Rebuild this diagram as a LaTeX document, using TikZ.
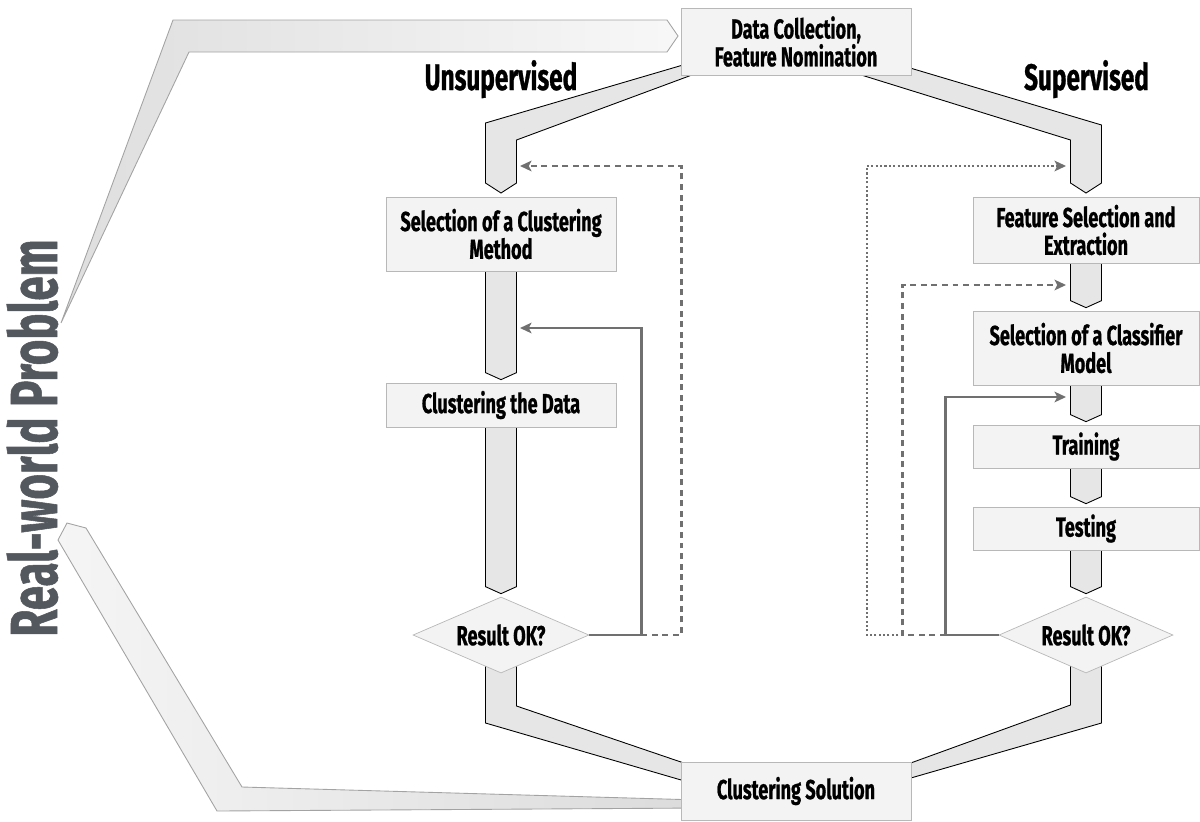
\documentclass[tikz,border=0pt]{standalone}
\usepackage{fontspec}
\setmainfont{Fira Sans}[FakeStretch=0.66, BoldFeatures={FakeBold=0.8}]
\usepackage{tikz}
\usetikzlibrary{positioning}
\usetikzlibrary{calc,backgrounds,arrows.meta}
\usetikzlibrary{shapes.geometric}

\definecolor{BoxFill}{HTML}{F3F3F3}
\definecolor{BoxLine}{HTML}{B8B8B8}
\definecolor{BandFill}{HTML}{E6E6E6}
\definecolor{LoopGray}{HTML}{707070}
\definecolor{RealGray}{HTML}{53585F}
\definecolor{RealLine}{HTML}{A3A3A3}

\tikzset{
	procbox/.style={draw=BoxLine, fill=BoxFill, minimum width=4.60cm, align=center, inner sep=0pt,
		font=\fontsize{15.6}{15.8}\selectfont\bfseries, text=black},
	okcheck/.style={diamond, aspect=2.3, draw=BoxLine, fill=BoxFill, minimum width=3.52cm, minimum height=1.52cm,
		inner sep=0pt, font=\fontsize{15.6}{15.8}\selectfont\bfseries, text=black},
	heading/.style={font=\fontsize{21}{23}\selectfont\bfseries, anchor=base},
	flowband/.style={draw=black, fill=BandFill, line width=0.5pt},
	realband/.style={draw=RealLine, line width=0.5pt},
	backline/.style={draw=LoopGray, line width=1.5pt, -{Stealth[length=6.5pt,width=6pt,inset=1.5pt]}},
	backdashed/.style={backline, dash pattern=on 3.4pt off 2.6pt},
	backdotted/.style={backline, line width=1.3pt, dash pattern=on 1.2pt off 1.3pt},
}

\begin{document}
\begin{tikzpicture}
	\useasboundingbox (0cm,0cm) rectangle (24.00cm,-16.42cm);
	
	% ---------------------
	% Start & end of the cycle
	\node[procbox, minimum height=1.34cm] (DataCollection) at (15.92cm,-0.83cm) {Data Collection,\\Feature Nomination};
	\node[procbox, minimum height=1.16cm] (ClusteringSolution) at (15.92cm,-15.82cm) {Clustering Solution};
	
	\node[anchor=base, rotate=90, text=RealGray, font=\fontsize{37.8}{40}\selectfont\bfseries] (RealWorld) at (1.14cm,-8.76cm) {Real-world Problem};
	
	% ---------------------
	% Unsupervised branch
	\node[heading] (Unsupervised) at (10.02cm,-1.80cm) {Unsupervised};
	\node[procbox, minimum height=1.48cm] (ClusterMethod) at (10.02cm,-4.68cm) {Selection of a Clustering\\Method};
	\node[procbox, minimum height=0.88cm] (ClusterData) at (10.02cm,-8.10cm) {Clustering the Data};
	\node[okcheck] (ClusterCheck) at (10.02cm,-12.70cm) {Result OK?};
	
	% ---------------------
	% Supervised branch
	\node[heading] (Supervised) at (21.73cm,-1.80cm) {Supervised};
	\node[procbox, minimum width=4.52cm, minimum height=1.32cm] (FeatureSelection) at (21.72cm,-4.60cm) {Feature Selection and\\Extraction};
	\node[procbox, minimum width=4.52cm, minimum height=1.48cm] (ClassifierModel) at (21.72cm,-6.96cm) {Selection of a Classifier\\Model};
	\node[procbox, minimum width=4.52cm, minimum height=0.86cm] (Training) at (21.72cm,-8.93cm) {Training};
	\node[procbox, minimum width=4.52cm, minimum height=0.86cm] (Testing) at (21.72cm,-10.57cm) {Testing};
	\node[okcheck, minimum width=3.48cm] (ClassifierCheck) at (21.72cm,-12.70cm) {Result OK?};
	
	% ------------------------------------------------
	% Broad arrows (behind the boxes)
	\begin{scope}[on background layer]
		\draw[realband, left color=black!13, right color=black!3]
			(1.22cm,-6.46cm) -- (3.46cm,-0.40cm) -- (13.34cm,-0.40cm) -- (13.56cm,-0.72cm)
			-- (13.34cm,-1.04cm) -- (3.78cm,-1.04cm) -- cycle;
		\draw[realband, left color=black!4, right color=black!14]
			(1.34cm,-10.46cm) -- (1.72cm,-10.56cm) -- (4.84cm,-15.74cm) -- (14.00cm,-16.00cm)
			-- (14.00cm,-16.16cm) -- (4.34cm,-16.22cm) -- (1.16cm,-10.80cm) -- cycle;
		
		\draw[flowband] (14.00cm,-1.20cm) -- (9.71cm,-2.46cm) -- (9.71cm,-3.66cm) -- (10.02cm,-3.86cm)
			-- (10.33cm,-3.66cm) -- (10.33cm,-2.80cm) -- (14.00cm,-1.44cm) -- cycle;
		\draw[flowband] (17.80cm,-1.24cm) -- (22.03cm,-2.50cm) -- (22.03cm,-3.66cm) -- (21.72cm,-3.86cm)
			-- (21.41cm,-3.66cm) -- (21.41cm,-2.80cm) -- (17.00cm,-1.43cm) -- cycle;
		
		\foreach \Upper/\Lower in {ClusterMethod/ClusterData, ClusterData/ClusterCheck,
			FeatureSelection/ClassifierModel, ClassifierModel/Training, Training/Testing, Testing/ClassifierCheck}
			\draw[flowband] ($(\Upper.south)+(-0.31,0.10)$) -- ($(\Lower.north)+(-0.31,0.20)$)
				-- ($(\Lower.north)+(0,0.06)$) -- ($(\Lower.north)+(0.31,0.20)$)
				-- ($(\Upper.south)+(0.31,0.10)$) -- cycle;
		
		\draw[flowband] (9.71cm,-13.20cm) -- (9.71cm,-14.46cm) -- (14.00cm,-15.71cm) -- (14.00cm,-15.37cm)
			-- (10.33cm,-14.12cm) -- (10.33cm,-13.20cm) -- cycle;
		\draw[flowband] (21.41cm,-13.20cm) -- (21.41cm,-14.10cm) -- (17.80cm,-15.41cm) -- (17.80cm,-15.68cm)
			-- (22.03cm,-14.46cm) -- (22.03cm,-13.20cm) -- cycle;
	\end{scope}
	
	% ------------------------------------------------
	% Feedback loops
	\path (ClusterCheck.east) +(1.04cm,0cm) coordinate (ClusterRetry);
	\path (ClusterRetry) +(0.80cm,0cm) coordinate (ClusterRestart);
	\coordinate (ClusterDataIn) at (10.40cm,-6.56cm);
	\coordinate (ClusterMethodIn) at (10.40cm,-3.32cm);
	
	\draw[backline] (ClusterCheck.east) -- (ClusterRetry) |- (ClusterDataIn);
	\draw[backdashed] (ClusterRetry) -- (ClusterRestart) |- (ClusterMethodIn);
	
	\path (ClassifierCheck.west) +(-1.06cm,0cm) coordinate (TrainRetry);
	\path (TrainRetry) +(-0.86cm,0cm) coordinate (ModelRetry);
	\path (ModelRetry) +(-0.72cm,0cm) coordinate (FeatureRetry);
	\coordinate (TrainingIn) at (21.32cm,-7.94cm);
	\coordinate (ModelIn) at (21.32cm,-5.70cm);
	\coordinate (FeatureIn) at (21.32cm,-3.32cm);
	
	\draw[backline] (ClassifierCheck.west) -- (TrainRetry) |- (TrainingIn);
	\draw[backdashed] (TrainRetry) -- (ModelRetry) |- (ModelIn);
	\draw[backdotted] (ModelRetry) -- (FeatureRetry) |- (FeatureIn);
	
\end{tikzpicture}
\end{document}
